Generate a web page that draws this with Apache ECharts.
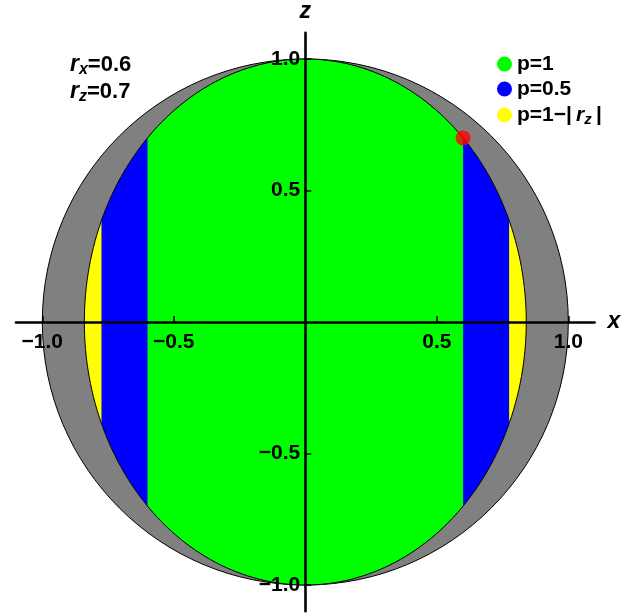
<!DOCTYPE html>
<html>
<head>
<meta charset="utf-8">
<script src="https://cdn.jsdelivr.net/npm/echarts@6/dist/echarts.min.js"></script>
<style>
  html, body { margin: 0; padding: 0; background: #fff; }
  #chart { width: 638px; height: 613px; }
</style>
</head>
<body>
<div id="chart"></div>
<script>
// Bloch-vector components of the state
const rx = 0.6;
const rz = 0.7;
// |x| where the p=0.5 band gives way to the p=1−|rz| band
const bandEdge = [0.775];
// axis extent and tick positions
const axisRange = [-1.1, 1.1];
const tickValues = [-1.0, -0.5, 0.5, 1.0];
// legend entries and their fill colours
const seriesNames = ['p=1', 'p=0.5', 'p=1−|rz|'];
const seriesColors = ['#00ff00', '#0000ff', '#ffff00'];

// half-width of the ellipse through (0,1) and (rx,rz)
const ellA = rx / Math.sqrt(1 - rz * rz);

const FONT = '"Liberation Sans", Arial, sans-serif';
const GRID = { left: 16, top: 32.7, width: 578.6, height: 578.6 };

function fmt(v) {
  return (v < 0 ? '\u2212' : '') + Math.abs(v).toFixed(1);
}

// polygon of the part of the ellipse with x1 <= x <= x2
function ellipseBand(api, x1, x2) {
  const c1 = Math.max(-1, Math.min(1, x1 / ellA));
  const c2 = Math.max(-1, Math.min(1, x2 / ellA));
  const tA = Math.acos(c2), tB = Math.acos(c1);
  const N = 120, pts = [];
  for (let i = 0; i <= N; i++) {
    const t = tA + (tB - tA) * i / N;
    pts.push(api.coord([ellA * Math.cos(t), Math.sin(t)]));
  }
  for (let i = 0; i <= N; i++) {
    const t = -tB + (tB - tA) * i / N;
    pts.push(api.coord([ellA * Math.cos(t), Math.sin(t)]));
  }
  return pts;
}

function bandSeries(name, color, x1, x2, z) {
  return {
    type: 'custom',
    name: name,
    z: z,
    silent: true,
    itemStyle: { color: color },
    data: [[0, 0]],
    renderItem: function (params, api) {
      return {
        type: 'polygon',
        shape: { points: ellipseBand(api, x1, x2) },
        style: { fill: color, stroke: null }
      };
    }
  };
}

const chart = echarts.init(document.getElementById('chart'), null, { renderer: 'canvas' });

const axisCommon = {
  type: 'value',
  min: axisRange[0],
  max: axisRange[1],
  z: 10,
  splitLine: { show: false },
  axisLine: { onZero: false, lineStyle: { color: '#000', width: 2.6 } },
  axisTick: { inside: true, length: 6, customValues: tickValues, lineStyle: { color: '#000', width: 1.5 } },
  axisLabel: {
    customValues: tickValues,
    formatter: fmt,
    color: '#000',
    fontFamily: FONT,
    fontWeight: 'bold',
    fontSize: 21
  },
  nameTextStyle: { fontFamily: FONT, fontStyle: 'italic', fontWeight: 'bold', fontSize: 23, color: '#000' }
};

const option = {
  animation: false,
  backgroundColor: '#fff',
  grid: Object.assign({ outerBoundsMode: 'none', containLabel: false }, GRID),
  xAxis: Object.assign({}, axisCommon, {
    // axis runs through z = 0, the middle of the grid
    position: 'bottom', offset: -GRID.height / 2,
    name: 'x', nameLocation: 'end', nameGap: 13,
    axisLabel: Object.assign({}, axisCommon.axisLabel, { margin: 10 })
  }),
  yAxis: Object.assign({}, axisCommon, {
    // axis runs through x = 0, the middle of the grid
    position: 'left', offset: -GRID.width / 2,
    name: 'z', nameLocation: 'end', nameGap: 10,
    axisLabel: Object.assign({}, axisCommon.axisLabel, { margin: 5 })
  }),
  title: {
    left: 65, top: 46,
    text: '{r|r}{s|x}{b|=0.6}\n{r|r}{s|z}{b|=0.7}',
    textStyle: {
      fontFamily: FONT, fontWeight: 'bold', fontSize: 22, color: '#000', lineHeight: 25,
      rich: {
        r: { fontFamily: FONT, fontStyle: 'italic', fontWeight: 'bold', fontSize: 23, lineHeight: 25, color: '#000' },
        s: { fontFamily: FONT, fontStyle: 'italic', fontWeight: 'bold', fontSize: 16, lineHeight: 27, verticalAlign: 'bottom', color: '#000' },
        b: { fontFamily: FONT, fontWeight: 'bold', fontSize: 22, lineHeight: 25, color: '#000' }
      }
    }
  },
  legend: {
    orient: 'vertical',
    left: 492, top: 48,
    icon: 'circle',
    itemWidth: 15, itemHeight: 15, itemGap: 3,
    selectedMode: false,
    data: seriesNames,
    formatter: function (name) {
      return name === seriesNames[2] ? 'p=1\u2212|\u2009{r|r}{s|z}\u2009|' : name;
    },
    textStyle: {
      fontFamily: FONT, fontWeight: 'bold', fontSize: 21, color: '#000', lineHeight: 22,
      rich: {
        r: { fontFamily: FONT, fontStyle: 'italic', fontWeight: 'bold', fontSize: 21, lineHeight: 22, color: '#000' },
        s: { fontFamily: FONT, fontStyle: 'italic', fontWeight: 'bold', fontSize: 15, lineHeight: 24, verticalAlign: 'bottom', color: '#000' }
      }
    }
  },
  series: [
    {
      // unit circle
      type: 'custom',
      name: 'sphere',
      z: 1,
      silent: true,
      data: [[0, 0]],
      renderItem: function (params, api) {
        const c = api.coord([0, 0]);
        const r = api.size([1, 1]);
        return {
          type: 'ellipse',
          shape: { cx: c[0], cy: c[1], rx: r[0], ry: r[1] },
          style: { fill: '#808080', stroke: '#000', lineWidth: 1 }
        };
      }
    },
    bandSeries(seriesNames[2], seriesColors[2], -ellA, ellA, 2),
    bandSeries(seriesNames[1], seriesColors[1], -bandEdge[0], bandEdge[0], 3),
    bandSeries(seriesNames[0], seriesColors[0], -rx, rx, 4),
    {
      // ellipse outline
      type: 'custom',
      name: 'outline',
      z: 5,
      silent: true,
      data: [[0, 0]],
      renderItem: function (params, api) {
        return {
          type: 'polygon',
          shape: { points: ellipseBand(api, -ellA, ellA) },
          style: { fill: null, stroke: '#000', lineWidth: 1 }
        };
      }
    },
    {
      type: 'scatter',
      name: 'state',
      z: 20,
      symbol: 'circle',
      symbolSize: 15,
      itemStyle: { color: '#ff0000' },
      data: [[rx, rz]]
    }
  ]
};

chart.setOption(option);
</script>
</body>
</html>
